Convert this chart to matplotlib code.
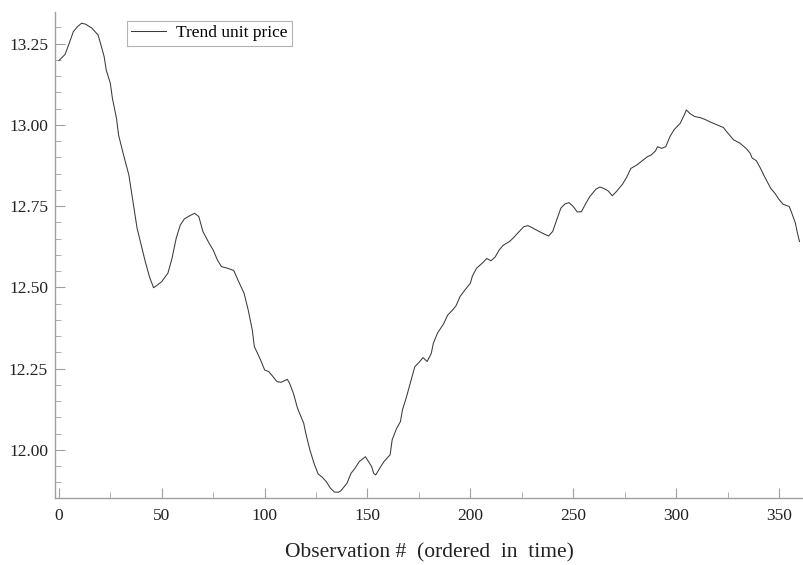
import matplotlib
matplotlib.use("Agg")
import matplotlib.pyplot as plt
from matplotlib.ticker import MultipleLocator, FormatStrFormatter

plt.rcParams['font.family'] = ['Liberation Serif', 'DejaVu Serif']

obs = [0, 3, 5, 7, 9, 11, 13, 16, 19, 20, 22, 23, 25, 26, 28, 29, 31, 34, 36, 38,
       40, 42, 44, 46, 48, 50, 53, 55, 57, 59, 61, 64, 66, 68, 70, 73, 75, 77, 79, 82,
       85, 87, 90, 92, 94, 95, 98, 100, 102, 104, 106, 108, 111, 112, 114, 116, 119, 120, 122, 124,
       126, 128, 130, 132, 134, 136, 137, 140, 142, 144, 146, 149, 150, 152, 153, 154, 156, 158, 161, 162,
       164, 166, 167, 169, 171, 173, 175, 177, 179, 181, 182, 184, 187, 189, 191, 193, 195, 197, 200, 201,
       203, 206, 208, 210, 212, 214, 216, 219, 221, 223, 226, 228, 230, 232, 235, 238, 240, 242, 244, 246,
       248, 250, 252, 254, 256, 258, 261, 263, 265, 267, 269, 271, 274, 276, 278, 281, 283, 286, 288, 290,
       291, 293, 295, 297, 299, 302, 304, 305, 307, 309, 312, 314, 317, 320, 323, 325, 328, 331, 334, 336,
       337, 339, 341, 343, 346, 348, 350, 352, 355, 356, 358, 359, 360]
price = [13.198, 13.217, 13.251, 13.287, 13.302, 13.313, 13.310, 13.298, 13.277, 13.256, 13.210, 13.169, 13.128, 13.082, 13.020, 12.969, 12.918, 12.846, 12.764, 12.682,
         12.631, 12.579, 12.533, 12.499, 12.508, 12.518, 12.544, 12.590, 12.651, 12.692, 12.711, 12.722, 12.728, 12.718, 12.672, 12.636, 12.615, 12.585, 12.564, 12.559,
         12.552, 12.523, 12.482, 12.431, 12.369, 12.318, 12.277, 12.246, 12.241, 12.226, 12.210, 12.208, 12.217, 12.207, 12.174, 12.128, 12.082, 12.051, 12.000, 11.959,
         11.926, 11.916, 11.902, 11.882, 11.870, 11.870, 11.874, 11.897, 11.928, 11.944, 11.964, 11.979, 11.969, 11.949, 11.928, 11.923, 11.944, 11.964, 11.985, 12.031,
         12.064, 12.087, 12.123, 12.164, 12.210, 12.256, 12.269, 12.284, 12.272, 12.297, 12.328, 12.359, 12.388, 12.415, 12.428, 12.443, 12.472, 12.489, 12.513, 12.535,
         12.559, 12.576, 12.589, 12.582, 12.593, 12.615, 12.630, 12.641, 12.653, 12.667, 12.687, 12.690, 12.684, 12.677, 12.667, 12.658, 12.672, 12.708, 12.744, 12.757,
         12.761, 12.749, 12.732, 12.733, 12.757, 12.779, 12.802, 12.809, 12.804, 12.797, 12.782, 12.795, 12.818, 12.839, 12.866, 12.877, 12.887, 12.902, 12.908, 12.920,
         12.933, 12.928, 12.933, 12.964, 12.985, 13.005, 13.031, 13.046, 13.034, 13.026, 13.022, 13.017, 13.008, 13.000, 12.992, 12.976, 12.954, 12.944, 12.928, 12.913,
         12.898, 12.890, 12.867, 12.841, 12.805, 12.790, 12.771, 12.756, 12.749, 12.733, 12.698, 12.667, 12.641]

series_label = "Trend unit price"
x_label = "Observation #  (ordered  in  time)"

W, H = 804, 565
fig = plt.figure(figsize=(W / 100, H / 100), dpi=100)
ax = fig.add_axes([55 / W, (H - 498) / H, (803 - 55) / W, (498 - 12) / H])

ax.plot(obs, price, color='#3a3a3a', lw=0.75, label=series_label)

ax.set_xlim(-1.9, 361.7)
ax.set_ylim(11.852, 13.3475)

for s in ['top', 'right']:
    ax.spines[s].set_visible(False)
for s in ['left', 'bottom']:
    ax.spines[s].set_color('#a0a0a0')
    ax.spines[s].set_linewidth(1.0)

ax.xaxis.set_major_locator(MultipleLocator(50))
ax.xaxis.set_minor_locator(MultipleLocator(25))
ax.yaxis.set_major_locator(MultipleLocator(0.25))
ax.yaxis.set_minor_locator(MultipleLocator(0.05))
ax.yaxis.set_major_formatter(FormatStrFormatter('%.2f'))

ax.tick_params(which='both', direction='in', color='#a0a0a0', labelsize=12.5, labelcolor='#222222')
ax.tick_params(which='major', length=7, width=0.8)
ax.tick_params(which='minor', length=4, width=0.6)
ax.tick_params(axis='x', which='major', pad=7)
ax.tick_params(axis='y', which='major', pad=5)

ax.set_xlabel(x_label, fontsize=15.5, color='#222222', labelpad=14)

leg = ax.legend(loc='upper left', bbox_to_anchor=((127 - 55) / (803 - 55), 1 - (21 - 12) / (498 - 12)),
                frameon=True, fancybox=False, fontsize=12.5, handlelength=2.0,
                borderpad=0.25, borderaxespad=0, handletextpad=0.6)
leg.get_frame().set_edgecolor('#a0a0a0')
leg.get_frame().set_linewidth(0.8)

fig.savefig('out.png', dpi=100)
